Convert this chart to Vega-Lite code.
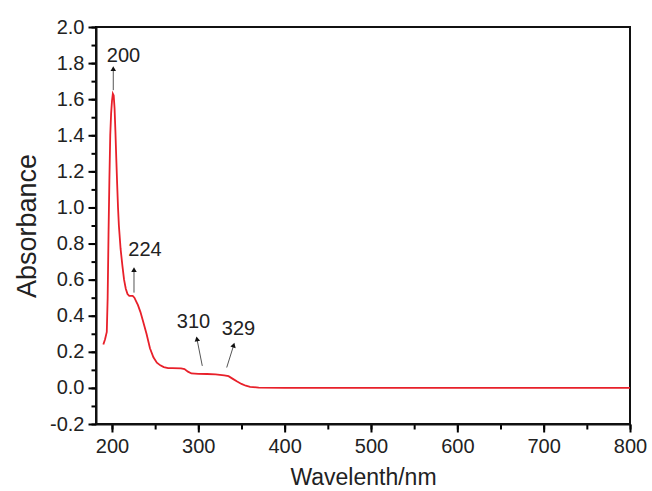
{
  "$schema": "https://vega.github.io/schema/vega-lite/v6.json",
  "width": 534,
  "height": 397,
  "autosize": {"type": "none"},
  "padding": {"left": 96, "top": 27, "right": 22, "bottom": 67},
  "config": {
    "font": "Liberation Sans",
    "view": {"stroke": "#111", "strokeWidth": 2}
  },
  "datasets": {
    "spectrum": [
      {"wl": 190, "abs": 0.24},
      {"wl": 192, "abs": 0.27},
      {"wl": 194, "abs": 0.31},
      {"wl": 195, "abs": 0.5},
      {"wl": 196, "abs": 0.85},
      {"wl": 197, "abs": 1.15},
      {"wl": 198, "abs": 1.4},
      {"wl": 199, "abs": 1.52},
      {"wl": 200, "abs": 1.59},
      {"wl": 201, "abs": 1.63},
      {"wl": 202, "abs": 1.62},
      {"wl": 203, "abs": 1.55},
      {"wl": 204, "abs": 1.42},
      {"wl": 205, "abs": 1.27},
      {"wl": 206, "abs": 1.13},
      {"wl": 207, "abs": 1.0},
      {"wl": 208, "abs": 0.9},
      {"wl": 210, "abs": 0.77},
      {"wl": 212, "abs": 0.68},
      {"wl": 214, "abs": 0.6},
      {"wl": 216, "abs": 0.55},
      {"wl": 218, "abs": 0.52},
      {"wl": 220, "abs": 0.51},
      {"wl": 224, "abs": 0.51},
      {"wl": 226, "abs": 0.5},
      {"wl": 228, "abs": 0.48},
      {"wl": 230, "abs": 0.46},
      {"wl": 233, "abs": 0.42},
      {"wl": 236, "abs": 0.37},
      {"wl": 240, "abs": 0.3},
      {"wl": 244, "abs": 0.22},
      {"wl": 248, "abs": 0.17},
      {"wl": 252, "abs": 0.14},
      {"wl": 256, "abs": 0.125},
      {"wl": 260, "abs": 0.115},
      {"wl": 265, "abs": 0.11},
      {"wl": 270, "abs": 0.11},
      {"wl": 280, "abs": 0.108},
      {"wl": 284, "abs": 0.104},
      {"wl": 288, "abs": 0.09},
      {"wl": 292, "abs": 0.08},
      {"wl": 300, "abs": 0.078},
      {"wl": 310, "abs": 0.077},
      {"wl": 320, "abs": 0.075},
      {"wl": 330, "abs": 0.07},
      {"wl": 335, "abs": 0.065},
      {"wl": 340, "abs": 0.05},
      {"wl": 345, "abs": 0.035},
      {"wl": 350, "abs": 0.022},
      {"wl": 355, "abs": 0.012},
      {"wl": 360, "abs": 0.006},
      {"wl": 370, "abs": 0.002},
      {"wl": 400, "abs": 0.0},
      {"wl": 500, "abs": 0.0},
      {"wl": 600, "abs": 0.0},
      {"wl": 700, "abs": 0.0},
      {"wl": 800, "abs": 0.0}
    ],
    "notes": [
      {"label": "200", "tx": 213.3, "ty": 1.84, "x1": 201.5, "y1": 1.65, "x2": 201.5, "y2": 1.77},
      {"label": "224", "tx": 238.2, "ty": 0.767, "x1": 225.5, "y1": 0.528, "x2": 225.5, "y2": 0.655},
      {"label": "310", "tx": 294.4, "ty": 0.367, "x1": 304.6, "y1": 0.122, "x2": 298.4, "y2": 0.272},
      {"label": "329", "tx": 346.5, "ty": 0.328, "x1": 332.9, "y1": 0.113, "x2": 341.0, "y2": 0.237}
    ]
  },
  "resolve": {"axis": {"x": "independent", "y": "independent"}},
  "layer": [
    {
      "data": {"name": "spectrum"},
      "mark": {"type": "line", "color": "#e8202a", "opacity": 0},
      "encoding": {
        "x": {
          "field": "wl",
          "type": "quantitative",
          "scale": {"domain": [181.5, 800], "nice": false, "zero": false},
          "axis": {
            "orient": "bottom",
            "title": null,
            "tickCount": 13,
            "labels": false,
            "domain": false,
            "grid": true,
            "gridOpacity": 0,
            "ticks": true,
            "tickColor": "black",
            "tickSize": 5,
            "tickWidth": 2,
            "tickRound": false,
            "zindex": 1
          }
        },
        "y": {
          "field": "abs",
          "type": "quantitative",
          "scale": {"domain": [-0.2, 2.0], "nice": false, "zero": false},
          "axis": {
            "orient": "left",
            "title": null,
            "tickCount": 22,
            "labels": false,
            "domain": false,
            "grid": true,
            "gridOpacity": 0,
            "ticks": true,
            "tickColor": "black",
            "tickSize": 5,
            "tickWidth": 2,
            "tickRound": false,
            "zindex": 1
          }
        }
      }
    },
    {
      "data": {"name": "spectrum"},
      "mark": {"type": "line", "color": "#e8202a", "strokeWidth": 1.8},
      "encoding": {
        "x": {
          "field": "wl",
          "type": "quantitative",
          "axis": {
            "orient": "bottom",
            "title": "Wavelenth/nm",
            "titleFontSize": 23,
            "titleFontWeight": "normal",
            "titleColor": "#222222",
            "titlePadding": 10,
            "tickCount": 7,
            "grid": true,
            "gridOpacity": 0,
            "domainColor": "#111111",
            "domainWidth": 2,
            "ticks": true,
            "tickColor": "black",
            "tickSize": 8,
            "tickWidth": 2,
            "tickRound": false,
            "labelFontSize": 20,
            "labelColor": "#222222",
            "labelPadding": 4,
            "labelFlush": false,
            "zindex": 1
          }
        },
        "y": {
          "field": "abs",
          "type": "quantitative",
          "axis": {
            "orient": "left",
            "title": "Absorbance",
            "titleFontSize": 27,
            "titleFontWeight": "normal",
            "titleColor": "#222222",
            "titlePadding": 8,
            "tickCount": 11,
            "labelExpr": "(datum.value < 0 ? '-' : '') + format(abs(datum.value), '.1f')",
            "grid": true,
            "gridOpacity": 0,
            "domainColor": "#111111",
            "domainWidth": 2,
            "ticks": true,
            "tickColor": "black",
            "tickSize": 8,
            "tickWidth": 2,
            "tickRound": false,
            "labelFontSize": 20,
            "labelColor": "#222222",
            "labelPadding": 4,
            "labelFlush": false,
            "zindex": 1
          }
        }
      }
    },
    {
      "data": {"name": "notes"},
      "mark": {"type": "rule", "color": "#555", "strokeWidth": 1},
      "encoding": {
        "x": {"field": "x1", "type": "quantitative", "axis": null},
        "y": {"field": "y1", "type": "quantitative", "axis": null},
        "x2": {"field": "x2"},
        "y2": {"field": "y2"}
      }
    },
    {
      "data": {"name": "notes"},
      "mark": {"type": "point", "shape": "triangle-up", "filled": true, "color": "#111", "size": 30, "opacity": 1},
      "encoding": {
        "x": {"field": "x2", "type": "quantitative", "axis": null},
        "y": {"field": "y2", "type": "quantitative", "axis": null},
        "angle": {
          "condition": [
            {"test": "datum.label === '310'", "value": 349},
            {"test": "datum.label === '329'", "value": 17}
          ],
          "value": 0
        }
      }
    },
    {
      "data": {"name": "notes"},
      "mark": {"type": "text", "fontSize": 20, "color": "#222", "align": "center", "baseline": "middle"},
      "encoding": {
        "x": {"field": "tx", "type": "quantitative", "axis": null},
        "y": {"field": "ty", "type": "quantitative", "axis": null},
        "text": {"field": "label"}
      }
    }
  ]
}
